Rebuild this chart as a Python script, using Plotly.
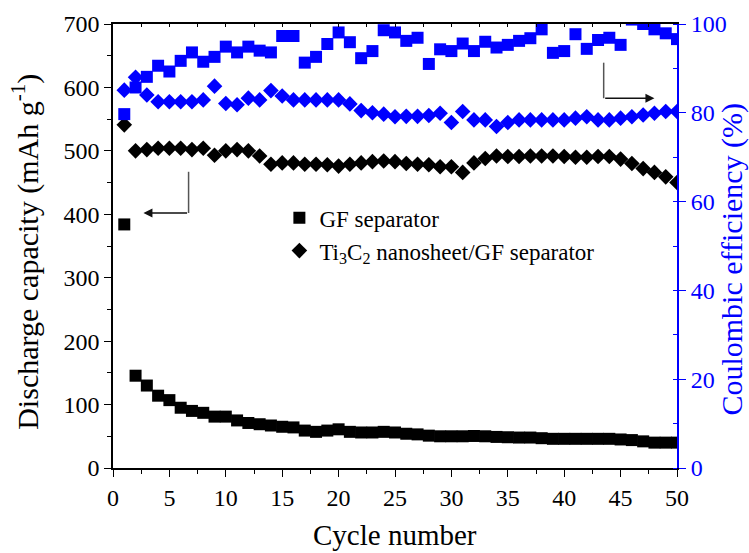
import plotly.graph_objects as go

# Cycle index
cycles = list(range(1, 51))

# Discharge capacity (mAh g-1)
gf_capacity = [384, 145.5, 130, 114, 107, 95, 90, 87, 81, 81,
               75, 71, 69, 67, 65, 64, 59, 57, 59, 61,
               57, 56, 56, 57, 56, 54, 53, 51, 50, 50,
               50, 50.5, 50, 49, 48.5, 48, 48, 47, 46, 46,
               46, 46, 46, 46, 45, 44, 42, 40, 40, 40]
ti_capacity = [541, 500, 502, 504, 504, 504, 502, 504, 493, 500,
               502, 500, 492, 479, 481, 481, 479, 479, 478, 476,
               479, 481, 483, 484, 483, 480, 479, 478, 475, 475,
               466, 481, 488, 492, 491, 491, 492, 492, 492, 491,
               490, 490, 491, 491, 487, 480, 472, 466, 459, 450]

# Coulombic efficiency (%)
gf_ce = [79.7, 85.7, 88.1, 90.6, 89.3, 91.7, 93.6, 91.5, 92.6, 94.9,
         93.6, 94.9, 94.0, 93.6, 97.3, 97.3, 91.3, 92.6, 95.5, 98.1,
         95.9, 92.3, 93.9, 98.6, 98.1, 96.2, 96.9, 91.0, 94.3, 93.9,
         95.6, 93.9, 96.0, 94.7, 95.3, 96.2, 96.8, 98.8, 93.5, 93.9,
         97.7, 94.4, 96.4, 96.9, 95.3, 101.0, 100.0, 98.8, 97.9, 96.6]
ti_ce = [85.1, 88.0, 84.0, 82.5, 82.5, 82.5, 82.5, 82.9, 86.0, 82.1,
         81.8, 83.3, 82.9, 85.0, 83.8, 82.9, 82.9, 82.9, 82.9, 82.9,
         82.0, 80.5, 80.0, 79.7, 79.1, 79.2, 79.2, 79.4, 79.9, 77.8,
         80.3, 78.4, 78.4, 76.9, 77.8, 78.4, 78.4, 78.4, 78.4, 78.4,
         78.8, 79.1, 78.4, 78.4, 78.8, 79.1, 79.5, 79.9, 80.3, 80.3]

x_ticks = [0, 5, 10, 15, 20, 25, 30, 35, 40, 45, 50]
cap_ticks = [0, 100, 200, 300, 400, 500, 600, 700]
ce_ticks = [0, 20, 40, 60, 80, 100]

FONT = "Liberation Serif"
BLUE = "#0000FF"
BLACK = "#000000"

fig = go.Figure()

fig.add_trace(go.Scatter(x=cycles, y=gf_capacity, mode="markers", name="GF separator",
                         marker=dict(symbol="square", size=12, color=BLACK)))
fig.add_trace(go.Scatter(x=cycles, y=ti_capacity, mode="markers",
                         name="Ti<sub>3</sub>C<sub>2</sub> nanosheet/GF separator",
                         marker=dict(symbol="diamond", size=12, color=BLACK)))
fig.add_trace(go.Scatter(x=cycles, y=gf_ce, mode="markers", yaxis="y2", showlegend=False,
                         marker=dict(symbol="square", size=12, color=BLUE)))
fig.add_trace(go.Scatter(x=cycles, y=ti_ce, mode="markers", yaxis="y2", showlegend=False,
                         marker=dict(symbol="diamond", size=12, color=BLUE)))
# carrier for the top frame axis
fig.add_trace(go.Scatter(x=[0, 50], y=[None, None], xaxis="x2", showlegend=False,
                         hoverinfo="skip", mode="markers"))

# Pointer arrows: capacity -> left axis, efficiency -> right axis
left_arrow = dict(x_turn=6.7, y_top=467, y_turn=402, x_tip=2.7)
right_arrow = dict(x_turn=43.5, y_top=639, y_turn=583, x_tip=48.0)

shapes = []
annotations = []
for arr in (left_arrow, right_arrow):
    shapes.append(dict(type="line", xref="x", yref="y",
                       x0=arr["x_turn"], x1=arr["x_turn"], y0=arr["y_top"], y1=arr["y_turn"],
                       line=dict(color="#555555", width=1.5)))
    annotations.append(dict(x=arr["x_tip"], y=arr["y_turn"], ax=arr["x_turn"], ay=arr["y_turn"],
                            xref="x", yref="y", axref="x", ayref="y", text="",
                            showarrow=True, arrowhead=2, arrowsize=1.2, arrowwidth=1.5,
                            arrowcolor="#111111"))

annotations += [
    dict(text="Discharge capacity (mAh g<sup>-1</sup>)", xref="paper", yref="paper",
         x=-0.155, y=0.486, xanchor="center", yanchor="middle", textangle=-90,
         showarrow=False, font=dict(family=FONT, size=30, color=BLACK)),
    dict(text="Coulombic efficiency (%)", xref="paper", yref="paper",
         x=1.097, y=0.471, xanchor="center", yanchor="middle", textangle=-90,
         showarrow=False, font=dict(family=FONT, size=30, color=BLUE)),
    dict(text="Cycle number", xref="paper", yref="paper",
         x=0.5, y=-0.152, xanchor="center", yanchor="middle",
         showarrow=False, font=dict(family=FONT, size=29, color=BLACK)),
]

fig.update_layout(
    width=749, height=553,
    margin=dict(l=113, r=72, t=24, b=85),
    paper_bgcolor="white", plot_bgcolor="white",
    font=dict(family=FONT, size=24, color=BLACK),
    showlegend=True,
    legend=dict(x=0.295, y=0.612, xanchor="left", yanchor="top",
                bgcolor="rgba(0,0,0,0)", font=dict(family=FONT, size=23, color=BLACK),
                tracegroupgap=0, itemwidth=30),
    xaxis=dict(range=[0, 50], tickvals=x_ticks, showgrid=False, zeroline=False,
               showline=True, linecolor=BLACK, linewidth=1.5,
               ticks="outside", ticklen=7, tickwidth=1.2, tickcolor=BLACK,
               minor=dict(dtick=2.5, ticks="outside", ticklen=4, tickcolor=BLACK),
               tickfont=dict(family=FONT, size=24, color=BLACK)),
    xaxis2=dict(range=[0, 50], overlaying="x", side="top", showgrid=False, zeroline=False,
                showline=True, linecolor=BLACK, linewidth=1.5, showticklabels=False,
                ticks="inside", dtick=2.5, ticklen=3, tickcolor=BLACK),
    yaxis=dict(range=[0, 700], tickvals=cap_ticks, showgrid=False, zeroline=False,
               showline=True, linecolor=BLACK, linewidth=1.5,
               ticks="outside", ticklen=7, tickwidth=1.2, tickcolor=BLACK,
               minor=dict(dtick=50, ticks="outside", ticklen=4, tickcolor=BLACK),
               tickfont=dict(family=FONT, size=24, color=BLACK)),
    yaxis2=dict(range=[0, 100], tickvals=ce_ticks, overlaying="y", side="right",
                showgrid=False, zeroline=False,
                showline=True, linecolor=BLUE, linewidth=2,
                ticks="outside", ticklen=7, tickwidth=1.2, tickcolor=BLUE,
                minor=dict(dtick=10, ticks="inside", ticklen=4, tickcolor=BLUE),
                tickfont=dict(family=FONT, size=24, color=BLUE)),
    shapes=shapes,
    annotations=annotations,
)

fig.write_html("out.html")
